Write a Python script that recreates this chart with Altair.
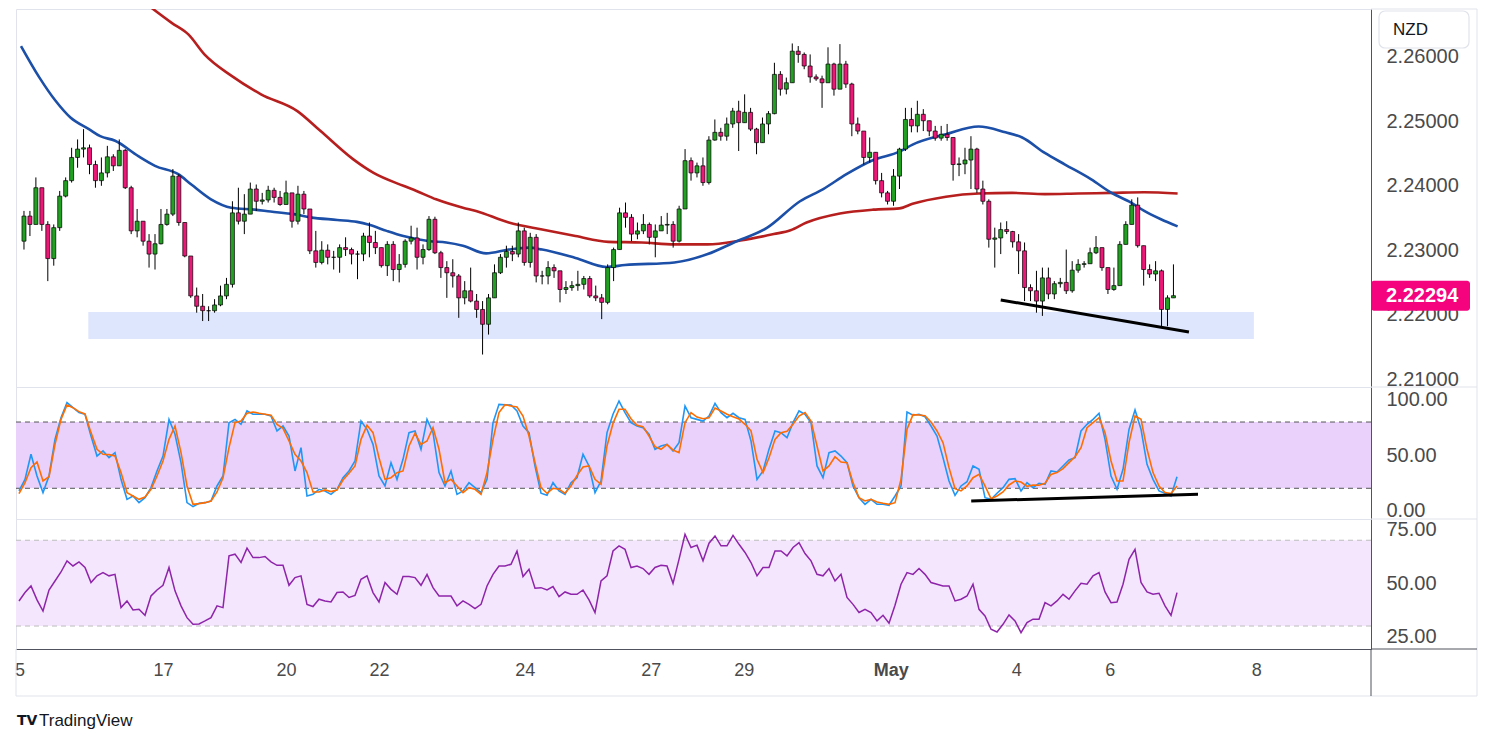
import json
import altair as alt
import pandas as pd

# ---------------- data (price in pips above 2.2000) ----------------
BASE = 2.2
OPEN0 = 314
CLOSE = [353, 340, 397, 340, 287, 335, 384, 408, 444, 457,
         459, 433, 408, 420, 445, 431, 455, 397, 330, 345,
         314, 294, 310, 340, 356, 415, 343, 291, 229, 213,
         206, 206, 215, 229, 247, 358, 345, 356, 395, 376,
         378, 393, 382, 371, 389, 345, 387, 364, 299, 281,
         300, 289, 289, 304, 301, 294, 294, 322, 312, 304,
         276, 309, 270, 278, 314, 319, 289, 301, 348, 296,
         273, 265, 260, 226, 237, 221, 208, 185, 226, 265,
         289, 298, 294, 330, 281, 320, 260, 260, 273, 268,
         239, 242, 245, 247, 256, 229, 226, 219, 273, 301,
         358, 351, 325, 330, 340, 320, 330, 339, 340, 314,
         364, 439, 420, 431, 405, 471, 483, 477, 496, 516,
         498, 514, 488, 467, 496, 512, 573, 550, 560, 609,
         604, 586, 569, 566, 560, 589, 550, 589, 558, 496,
         485, 444, 452, 408, 389, 376, 415, 457, 503, 493,
         511, 501, 485, 474, 480, 475, 433, 434, 440, 457,
         395, 376, 317, 319, 332, 329, 313, 299, 242, 237,
         221, 257, 232, 248, 250, 237, 269, 278, 279, 296,
         304, 273, 239, 245, 309, 340, 370, 307, 270, 263,
         268, 208, 226, 229.4]
HIGH = [361, 361, 413, 397, 345, 340, 392, 413, 459, 472,
        488, 464, 439, 444, 462, 449, 472, 457, 400, 364,
        345, 325, 325, 364, 364, 426, 418, 343, 291, 242,
        232, 213, 224, 245, 257, 376, 397, 387, 405, 402,
        389, 400, 397, 392, 408, 389, 400, 392, 364, 330,
        314, 309, 299, 309, 320, 304, 299, 327, 343, 330,
        304, 314, 314, 294, 317, 338, 335, 309, 353, 352,
        299, 283, 286, 263, 252, 273, 232, 221, 232, 278,
        294, 307, 307, 343, 335, 327, 325, 268, 283, 278,
        268, 252, 252, 268, 260, 260, 245, 232, 278, 304,
        366, 374, 356, 343, 356, 343, 340, 353, 358, 345,
        369, 457, 444, 436, 444, 477, 503, 490, 506, 521,
        532, 542, 521, 490, 506, 516, 591, 578, 568, 621,
        617, 607, 604, 573, 571, 615, 591, 620, 594, 560,
        506, 480, 475, 444, 420, 392, 426, 459, 521, 521,
        532, 519, 498, 493, 493, 496, 475, 444, 459, 477,
        459, 408, 379, 335, 343, 345, 330, 325, 312, 247,
        268, 273, 273, 252, 257, 301, 283, 286, 283, 304,
        322, 304, 273, 273, 314, 345, 379, 382, 307, 278,
        283, 270, 230, 278]
LOW = [301, 322, 340, 330, 252, 276, 330, 382, 405, 428,
       444, 418, 397, 400, 413, 423, 436, 395, 325, 320,
       307, 273, 270, 309, 338, 353, 338, 289, 226, 203,
       190, 190, 203, 213, 224, 242, 340, 325, 371, 361,
       371, 374, 374, 369, 376, 335, 340, 356, 294, 273,
       278, 278, 270, 265, 291, 278, 255, 283, 289, 294,
       273, 260, 252, 250, 273, 309, 270, 278, 299, 294,
       257, 226, 242, 195, 216, 219, 195, 138, 169, 226,
       263, 273, 283, 289, 276, 273, 250, 247, 247, 257,
       219, 232, 237, 237, 239, 226, 221, 193, 216, 252,
       301, 335, 314, 317, 325, 309, 289, 330, 325, 304,
       312, 364, 408, 413, 400, 402, 470, 470, 470, 490,
       454, 508, 485, 449, 467, 480, 511, 540, 542, 560,
       591, 581, 560, 563, 521, 568, 540, 555, 552, 477,
       480, 433, 436, 402, 382, 371, 369, 395, 454, 483,
       483, 485, 477, 470, 470, 470, 408, 415, 418, 395,
       389, 371, 304, 273, 294, 325, 304, 263, 221, 221,
       203, 198, 224, 224, 242, 232, 234, 265, 273, 281,
       294, 268, 232, 237, 245, 309, 340, 304, 245, 257,
       252, 182, 182, 226]

MA100_IDX = [-0.5, 2.6, 5.3, 7.8, 10.9, 12.8, 15.3, 19.2, 22, 25.9,
             28.1, 31.4, 34.8, 38.7, 41.4, 45.3, 48.1, 52.6, 55.9, 58.1,
             60.9, 63.7, 68.1, 70.9, 73.7, 77.6, 81.4, 84.8, 87, 92.6,
             97.8, 100.9, 109.2, 114.8, 119.2, 124.8, 130.3, 134.2, 138.1, 142.6,
             147, 149.2, 154.8, 160.3, 164.8, 167.6, 171.4, 174.8, 179.2, 182.6,
             185.9, 188.1, 190.9, 193.7]
MA100 = [617, 568, 532, 506, 488, 477, 470, 446, 431, 418,
         402, 379, 366, 363, 360, 356, 351, 347, 344, 339,
         330, 322, 314, 312, 307, 295, 301, 304, 301, 288,
         274, 277, 281, 294, 312, 335, 376, 395, 418, 440,
         453, 464, 480, 492, 483, 475, 451, 433, 410, 389,
         374, 361, 348, 337]
MA200_IDX = [20.6, 24.8, 27.6, 30.3, 34.8, 39.8, 45.9, 49.8, 55.3, 58.7,
             63.7, 65.9, 69.2, 73.7, 75.9, 81.4, 87, 92.6, 98.1, 103.7,
             109.2, 114.8, 120.3, 125.9, 128.7, 131.4, 137, 142.6, 147, 149.2,
             154.8, 160.3, 165.9, 171.4, 177, 182.6, 188.1, 193.7]
MA200 = [682, 653, 635, 604, 571, 542, 516, 485, 441, 420,
         400, 392, 379, 366, 361, 343, 332, 322, 313, 312,
         309, 309, 315, 325, 331, 343, 357, 363, 365, 372,
         383, 388, 389, 387, 388, 389, 390, 388]

ZONE_IDX = [10.8, 206.5]
ZONE_PIPS = [162, 204]
TREND_IDX = [164, 195.6]
TREND_PIPS = [222.7, 173]

STOCH_K = [17.6, 28.1, 50.8, 31.1, 16.1, 31.1, 64.3, 83.9, 97.5, 93.0,
           88.5, 87.0, 67.3, 49.2, 53.8, 47.7, 52.3, 28.1, 10.0, 13.0,
           7.0, 11.5, 20.6, 35.7, 49.2, 82.4, 68.9, 43.2, 7.0, 3.4,
           6.4, 7.0, 8.5, 22.1, 31.1, 79.4, 82.4, 77.9, 90.0, 87.0,
           87.0, 87.0, 85.4, 71.9, 76.4, 67.3, 35.7, 56.8, 13.0, 14.5,
           19.1, 17.6, 14.5, 19.1, 29.6, 35.7, 44.7, 80.9, 73.4, 59.8,
           31.1, 22.1, 43.2, 28.1, 46.2, 70.4, 71.9, 55.3, 82.4, 70.4,
           34.2, 22.1, 35.7, 14.5, 17.6, 25.1, 20.6, 16.1, 28.1, 79.4,
           96.0, 95.7, 95.4, 90.0, 76.4, 70.4, 40.2, 15.5, 13.6, 25.1,
           17.6, 14.5, 25.1, 29.6, 50.8, 40.2, 16.1, 26.6, 70.4, 87.0,
           99.0, 88.5, 79.4, 76.4, 74.9, 68.9, 55.3, 58.3, 59.8, 53.8,
           61.3, 94.5, 83.9, 82.4, 80.9, 85.4, 96.9, 88.5, 83.9, 87.9,
           83.9, 82.4, 62.8, 28.1, 35.7, 55.3, 71.9, 70.4, 65.8, 79.4,
           90.0, 87.0, 79.4, 40.2, 29.6, 52.3, 53.8, 49.2, 43.2, 22.1,
           11.5, 5.5, 10.0, 5.5, 5.5, 4.6, 13.0, 22.1, 89.1, 86.1,
           87.0, 84.8, 76.4, 67.3, 47.7, 26.6, 13.6, 22.1, 26.0, 40.2,
           37.2, 11.5, 10.0, 15.5, 20.6, 28.1, 28.7, 17.6, 25.1, 20.6,
           24.5, 23.6, 35.7, 34.8, 40.2, 45.6, 47.7, 71.9, 77.9, 82.4,
           87.9, 64.3, 31.1, 19.1, 37.2, 73.4, 90.9, 73.4, 41.7, 28.1,
           17.6, 15.5, 13.0, 30.5]
STOCH_D = [15.2, 25.1, 38.7, 43.8, 26.6, 30.5, 59.8, 82.4, 95.4, 93.0,
           89.4, 87.3, 70.4, 55.3, 50.8, 50.5, 49.2, 34.2, 16.1, 13.0,
           10.0, 12.1, 19.1, 31.1, 44.7, 64.3, 76.4, 52.3, 22.1, 5.5,
           6.1, 7.0, 8.5, 16.7, 29.6, 56.8, 79.4, 80.9, 87.9, 89.1,
           87.9, 87.0, 86.1, 77.9, 74.3, 62.8, 50.8, 44.7, 34.2, 16.7,
           16.7, 18.5, 17.0, 18.5, 27.5, 33.6, 40.2, 64.3, 77.0, 70.4,
           47.7, 28.1, 29.6, 34.2, 35.7, 58.3, 69.8, 59.8, 62.8, 74.9,
           55.3, 25.1, 28.1, 22.1, 16.1, 20.6, 19.1, 14.5, 34.2, 64.3,
           88.5, 95.7, 94.5, 93.6, 85.4, 67.3, 43.2, 20.6, 15.5, 20.0,
           19.1, 15.5, 22.1, 31.7, 39.3, 40.2, 28.1, 23.6, 58.3, 78.8,
           91.5, 91.5, 83.0, 77.0, 75.8, 67.3, 57.7, 55.3, 59.5, 54.7,
           52.3, 79.4, 88.5, 84.5, 83.0, 83.9, 92.7, 90.0, 87.0, 84.8,
           82.7, 77.9, 71.9, 46.2, 34.2, 47.7, 64.3, 70.4, 71.6, 77.9,
           85.4, 88.5, 80.9, 58.3, 35.7, 40.2, 48.6, 43.8, 43.2, 25.1,
           11.5, 8.5, 10.0, 7.6, 6.4, 5.5, 7.0, 28.1, 73.4, 86.7,
           86.4, 85.7, 80.0, 71.9, 61.3, 38.7, 19.7, 17.6, 22.1, 29.6,
           32.6, 22.1, 10.6, 13.0, 16.7, 23.0, 26.6, 25.7, 21.8, 23.0,
           22.7, 24.5, 32.6, 34.2, 37.8, 43.2, 48.6, 56.8, 74.9, 79.4,
           83.9, 70.4, 44.7, 26.6, 26.6, 61.3, 85.4, 82.4, 55.3, 34.2,
           22.1, 16.1, 15.2, 22.1]
STOCH_TREND_IDX = [158.7, 196.5]
STOCH_TREND = [8.5, 14.6]

RSI = [41.7, 45.6, 48.7, 42.2, 37.0, 46.8, 51.0, 55.2, 60.4, 58.0,
       59.9, 57.3, 50.3, 53.4, 54.9, 53.4, 54.1, 38.6, 41.7, 37.5,
       37.8, 35.0, 44.0, 46.8, 49.0, 57.3, 46.4, 39.4, 33.9, 30.8,
       31.0, 32.4, 33.9, 39.4, 38.6, 62.7, 63.5, 59.6, 66.3, 61.9,
       61.9, 62.4, 59.9, 58.3, 58.3, 49.0, 52.6, 53.4, 40.1, 39.1,
       42.5, 41.7, 41.2, 45.6, 45.9, 43.3, 44.3, 51.8, 53.4, 45.6,
       41.2, 50.3, 47.1, 44.8, 53.1, 53.1, 52.6, 49.0, 54.1, 47.9,
       44.0, 44.0, 44.0, 39.4, 41.7, 40.1, 38.1, 40.1, 48.7, 54.1,
       58.0, 58.0, 58.8, 65.0, 53.1, 56.5, 47.6, 47.9, 46.8, 48.4,
       43.7, 45.9, 44.8, 44.8, 46.8, 42.2, 36.3, 51.0, 53.4, 65.0,
       67.4, 65.8, 57.3, 58.0, 56.8, 54.1, 57.3, 58.3, 58.0, 49.9,
       61.1, 72.8, 66.6, 67.7, 60.4, 68.6, 72.0, 67.4, 67.4, 72.3,
       68.1, 64.3, 59.6, 53.4, 57.3, 57.3, 65.0, 65.0, 62.7, 66.6,
       68.9, 63.8, 60.4, 54.1, 53.4, 56.8, 51.0, 54.1, 43.3, 40.1,
       36.3, 37.8, 36.3, 32.4, 35.0, 31.3, 39.7, 49.5, 54.9, 54.1,
       56.8, 54.1, 50.3, 49.5, 48.7, 48.7, 41.7, 42.5, 44.0, 49.5,
       37.8, 34.7, 28.5, 27.2, 30.8, 35.2, 32.4, 26.9, 31.6, 33.2,
       33.2, 40.9, 39.4, 41.7, 44.8, 42.5, 46.4, 49.9, 49.5, 53.4,
       54.9, 45.9, 40.9, 41.2, 49.5, 61.1, 65.8, 50.3, 45.9, 44.8,
       45.3, 39.4, 35.0, 45.6]

TICK_POS = [0.08, 24, 44.5, 60, 84.3, 105.3, 120.8, 145.3, 166.2, 181.8, 206.2]
TICK_LAB = ["5", "17", "20", "22", "24", "27", "29", "May", "4", "6", "8"]
PRICE_TICKS = [2.21, 2.22, 2.23, 2.24, 2.25, 2.26]
STOCH_TICKS = [0, 50, 100]
RSI_TICKS = [25, 50, 75]

# ---------------- layout / style ----------------
W, H1, H2, H3 = 1355, 378, 132, 130
XDOM = [-0.5, 225.33]
PDOM = [2.20876, 2.26745]
SDOM = [-7.8, 111.7]
RDOM = [19.3, 79.9]
FONT = "Liberation Sans"
LABEL_C = "#4a4a4a"
DOM_C = "#50535e"
FRAME_C = "#e0e3eb"
GREEN = "#22a022"
PINK = "#ec1777"


def px(v):
    return round(BASE + v / 10000.0, 5)


n = len(CLOSE)
opens = [OPEN0] + CLOSE[:-1]
candles = pd.DataFrame({
    "i": list(range(n)),
    "open": [px(v) for v in opens],
    "close": [px(v) for v in CLOSE],
    "high": [px(max(h, o, c)) for h, o, c in zip(HIGH, opens, CLOSE)],
    "low": [px(min(l, o, c)) for l, o, c in zip(LOW, opens, CLOSE)],
})

xs = alt.Scale(domain=XDOM, nice=False, zero=False)
ps = alt.Scale(domain=PDOM, nice=False, zero=False)
ss = alt.Scale(domain=SDOM, nice=False, zero=False)
rs = alt.Scale(domain=RDOM, nice=False, zero=False)


def yaxis(values, fmt):
    return alt.Axis(orient="right", values=values, format=fmt, grid=False, ticks=False,
                    tickSize=0, labelPadding=15, labelFontSize=20, labelFont=FONT,
                    labelColor=LABEL_C, domain=True, domainColor=DOM_C, domainWidth=1,
                    labelOverlap=False, labelFlush=False, title=None)


pax = yaxis(PRICE_TICKS, ".5f")
sax = yaxis(STOCH_TICKS, ".2f")
rax = yaxis(RSI_TICKS, ".2f")

XN = alt.X("i:Q", scale=xs, axis=None)
one = pd.DataFrame({"a": [0]})


def frame_rules(height):
    return [
        alt.Chart(one).mark_rule(color=FRAME_C, strokeWidth=1).encode(
            x=alt.value(W), x2=alt.value(W + 106), y=alt.value(0)),
        alt.Chart(one).mark_rule(color=FRAME_C, strokeWidth=1).encode(
            x=alt.value(W + 106), y=alt.value(0), y2=alt.value(height)),
    ]


# ---------------- price panel ----------------
zone_df = pd.DataFrame({"x0": [ZONE_IDX[0]], "x1": [ZONE_IDX[1]],
                        "y0": [px(ZONE_PIPS[0])], "y1": [px(ZONE_PIPS[1])]})
zone = alt.Chart(zone_df).mark_rect(color="#dde6fc").encode(
    x=alt.X("x0:Q", scale=xs, axis=None), x2="x1:Q",
    y=alt.Y("y0:Q", scale=ps, axis=pax), y2="y1:Q")

ma100_df = pd.DataFrame({"i": MA100_IDX, "v": [px(v) for v in MA100]})
ma200_df = pd.DataFrame({"i": MA200_IDX, "v": [px(v) for v in MA200]})
red = alt.Chart(ma200_df).mark_line(color="#b71f1f", strokeWidth=2.6, clip=True,
                                    interpolate="monotone").encode(
    x=XN, y=alt.Y("v:Q", scale=ps, axis=pax))
blue = alt.Chart(ma100_df).mark_line(color="#1b4fa8", strokeWidth=2.6, clip=True,
                                     interpolate="monotone").encode(
    x=XN, y=alt.Y("v:Q", scale=ps, axis=pax))

wick = alt.Chart(candles).mark_rule(color="#000000", strokeWidth=1).encode(
    x=XN, y=alt.Y("low:Q", scale=ps, axis=pax), y2="high:Q")
body = alt.Chart(candles).mark_bar(size=4, stroke="#000000", strokeWidth=0.7).encode(
    x=XN, y=alt.Y("open:Q", scale=ps, axis=pax), y2="close:Q",
    fill=alt.condition("datum.close >= datum.open", alt.value(GREEN), alt.value(PINK)))

trend_df = pd.DataFrame({"i": TREND_IDX, "v": [px(v) for v in TREND_PIPS]})
trend = alt.Chart(trend_df).mark_line(color="#000000", strokeWidth=3).encode(
    x=XN, y=alt.Y("v:Q", scale=ps, axis=pax))

nzd_box = alt.Chart(one).mark_rect(fill="white", stroke=FRAME_C, strokeWidth=1.2,
                                   cornerRadius=6).encode(
    x=alt.value(W + 8), x2=alt.value(W + 98), y=alt.value(2), y2=alt.value(39))
nzd_txt = alt.Chart(one).mark_text(text="NZD", align="left", baseline="middle",
                                   fontSize=17, font=FONT, color="#131722").encode(
    x=alt.value(W + 22), y=alt.value(21))

last = BASE + CLOSE[-1] / 10000.0
half = 15 * (PDOM[1] - PDOM[0]) / H1
lab_df = pd.DataFrame({"p": [last], "lo": [last - half], "hi": [last + half],
                       "lab": [f"{last:.5f}"]})
lab_box = alt.Chart(lab_df).mark_rect(fill="#f5037f", cornerRadius=3).encode(
    x=alt.value(W), x2=alt.value(W + 99),
    y=alt.Y("lo:Q", scale=ps, axis=pax), y2="hi:Q")
lab_txt = alt.Chart(lab_df).mark_text(align="left", baseline="middle", fontSize=20,
                                      font=FONT, fontWeight="bold", color="white").encode(
    x=alt.value(W + 15), y=alt.Y("p:Q", scale=ps, axis=pax), text="lab:N")

price = alt.layer(zone, red, blue, wick, body, trend, nzd_box, nzd_txt, lab_box, lab_txt,
                  *frame_rules(H1)).properties(width=W, height=H1)

# ---------------- stochastic panel ----------------
osc_df = pd.DataFrame({"i": list(range(n)), "k": STOCH_K, "d": STOCH_D, "r": RSI})

s_band = alt.Chart(pd.DataFrame({"lo": [20], "hi": [80]})).mark_rect(color="#e9d1fc").encode(
    x=alt.value(0), x2=alt.value(W), y=alt.Y("lo:Q", scale=ss, axis=sax), y2="hi:Q")
s_lines = alt.Chart(pd.DataFrame({"lvl": [20, 80]})).mark_rule(
    color="#555555", strokeDash=[5, 4], strokeWidth=1).encode(
    x=alt.value(0), x2=alt.value(W), y=alt.Y("lvl:Q", scale=ss, axis=sax))
k_line = alt.Chart(osc_df).mark_line(color="#2196f3", strokeWidth=1.6).encode(
    x=XN, y=alt.Y("k:Q", scale=ss, axis=sax))
d_line = alt.Chart(osc_df).mark_line(color="#ff6d00", strokeWidth=1.6).encode(
    x=XN, y=alt.Y("d:Q", scale=ss, axis=sax))
s_trend = alt.Chart(pd.DataFrame({"i": STOCH_TREND_IDX, "v": STOCH_TREND})).mark_line(
    color="#000000", strokeWidth=3).encode(x=XN, y=alt.Y("v:Q", scale=ss, axis=sax))

stoch = alt.layer(s_band, s_lines, k_line, d_line, s_trend,
                  *frame_rules(H2)).properties(width=W, height=H2)

# ---------------- RSI panel ----------------
label_expr = f"{json.dumps(TICK_LAB)}[indexof({json.dumps(TICK_POS)}, datum.value)]"
xax = alt.Axis(orient="bottom", values=TICK_POS, labelExpr=label_expr, grid=False,
               ticks=False, tickSize=0, labelPadding=12, labelFontSize=18, labelFont=FONT,
               labelColor=LABEL_C, domain=True, domainColor=DOM_C, labelOverlap=False,
               labelFlush=False, title=None,
               labelFontWeight=alt.condition("datum.value == 145.3", alt.value("bold"),
                                             alt.value("normal")))

r_band = alt.Chart(pd.DataFrame({"lo": [30], "hi": [70]})).mark_rect(color="#f4e6fd").encode(
    x=alt.value(0), x2=alt.value(W), y=alt.Y("lo:Q", scale=rs, axis=rax), y2="hi:Q")
r_lines = alt.Chart(pd.DataFrame({"lvl": [30, 70]})).mark_rule(
    color="#bdbdbd", strokeDash=[5, 4], strokeWidth=1).encode(
    x=alt.value(0), x2=alt.value(W), y=alt.Y("lvl:Q", scale=rs, axis=rax))
r_line = alt.Chart(osc_df).mark_line(color="#8e24aa", strokeWidth=1.5).encode(
    x=alt.X("i:Q", scale=xs, axis=xax), y=alt.Y("r:Q", scale=rs, axis=rax))

bottom_frame = [
    alt.Chart(one).mark_rule(color=FRAME_C, strokeWidth=1).encode(
        x=alt.value(0), x2=alt.value(W + 106), y=alt.value(H3 + 47)),
    alt.Chart(one).mark_rule(color=FRAME_C, strokeWidth=1).encode(
        x=alt.value(W + 106), y=alt.value(H3), y2=alt.value(H3 + 47)),
    alt.Chart(one).mark_rule(color=FRAME_C, strokeWidth=1).encode(
        x=alt.value(0), y=alt.value(H3), y2=alt.value(H3 + 47)),
    alt.Chart(one).mark_rule(color=DOM_C, strokeWidth=1).encode(
        x=alt.value(W), y=alt.value(H3), y2=alt.value(H3 + 47)),
    alt.Chart(one).mark_rule(color=DOM_C, strokeWidth=1).encode(
        x=alt.value(W), x2=alt.value(W + 106), y=alt.value(H3)),
]
logo = alt.Chart(one).mark_text(text="TV", align="left", baseline="middle", fontSize=14,
                                font="DejaVu Sans", fontWeight=900, color="#131722").encode(
    x=alt.value(1), y=alt.value(202))
brand = alt.Chart(one).mark_text(text="TradingView", align="left", baseline="middle",
                                 fontSize=17, font=FONT, color="#131722").encode(
    x=alt.value(23), y=alt.value(202))

rsi = alt.layer(r_band, r_lines, r_line, *frame_rules(H3), *bottom_frame, logo, brand
                ).properties(width=W, height=H3)

chart = alt.vconcat(price, stoch, rsi, spacing=0, bounds="flush").properties(
    padding={"left": 5, "top": 0, "right": 0, "bottom": 0},
    background="white",
).configure_view(stroke=FRAME_C, strokeWidth=1)

chart.save("out.html", embed_options={"renderer": "svg", "actions": False})
